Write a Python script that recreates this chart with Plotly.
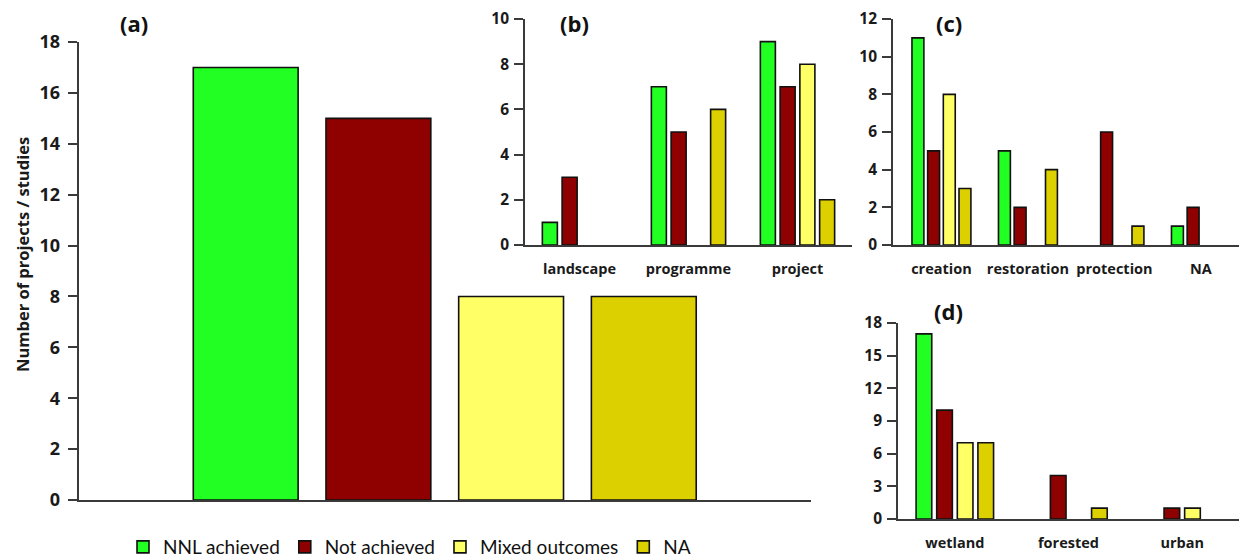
import plotly.graph_objects as go

W, H = 1239, 557

series = ["NNL achieved", "Not achieved", "Mixed outcomes", "NA"]
colors = ["#22FF22", "#8F0000", "#FFFF66", "#DDD000"]

# panel (a): overall outcomes
a_values = [17, 15, 8, 8]

# panel (b): scale
b_cats = ["landscape", "programme", "project"]
b_nnl = [1, 7, 9]
b_not = [3, 5, 7]
b_mixed = [0, 0, 8]
b_na = [0, 6, 2]

# panel (c): offset type
c_cats = ["creation", "restoration", "protection", "NA"]
c_nnl = [11, 5, 0, 1]
c_not = [5, 2, 6, 2]
c_mixed = [8, 0, 0, 0]
c_na = [3, 4, 1, 0]

# panel (d): habitat
d_cats = ["wetland", "forested", "urban"]
d_nnl = [17, 0, 0]
d_not = [10, 4, 1]
d_mixed = [7, 0, 1]
d_na = [7, 1, 0]

b_vals = [b_nnl, b_not, b_mixed, b_na]
c_vals = [c_nnl, c_not, c_mixed, c_na]
d_vals = [d_nnl, d_not, d_mixed, d_na]


def px_x(p):
    return p / W


def px_y(p):
    return 1 - p / H


fig = go.Figure()

OUT = "#111111"

# (a)
for i, (name, col, v) in enumerate(zip(series, colors, a_values)):
    fig.add_trace(go.Bar(
        x=[i + 1], y=[v], name=name,
        marker=dict(color=col, line=dict(color=OUT, width=1.6)),
        width=0.79, offset=-0.395, xaxis="x", yaxis="y",
        legendgroup=name, showlegend=True, hoverinfo="y"))

# (b), (c), (d)
for ax, cats, vals in [("2", b_cats, b_vals), ("3", c_cats, c_vals), ("4", d_cats, d_vals)]:
    for name, col, v in zip(series, colors, vals):
        lw = [1.6 if val else 0 for val in v]
        fig.add_trace(go.Bar(
            x=cats, y=v, name=name,
            marker=dict(color=col, line=dict(color=OUT, width=lw)),
            xaxis="x" + ax, yaxis="y" + ax, legendgroup=name,
            showlegend=False))

tick_font_big = dict(family="Open Sans", size=18, color="#1a1a1a", weight="bold")
tick_font = dict(family="Open Sans", size=14.5, color="#1a1a1a", weight="bold")
ytick_small = dict(family="Open Sans", size=15.5, color="#1a1a1a", weight="bold")
axcol = "#3a3a3a"

yax_common = dict(showline=True, linecolor=axcol, linewidth=1.6, ticks="outside",
                  ticklen=9, tickwidth=1.5, tickcolor=axcol, showgrid=False,
                  zeroline=False, fixedrange=True)
xax_common = dict(showline=True, linecolor=axcol, linewidth=1.6, ticks="",
                  showgrid=False, zeroline=False, fixedrange=True)

fig.update_layout(
    width=W, height=H,
    margin=dict(l=0, r=0, t=0, b=0, autoexpand=False),
    plot_bgcolor="white", paper_bgcolor="white",
    barmode="group", bargap=0.275, bargroupgap=0.24,
    showlegend=True,
    legend=dict(orientation="h", xref="container", yref="container",
                x=px_x(123), y=px_y(547), xanchor="left", yanchor="middle",
                font=dict(family="Lato", size=19, color="#111111"),
                itemwidth=30, tracegroupgap=0, bgcolor="rgba(0,0,0,0)"),
    xaxis=dict(domain=[px_x(78.5), px_x(811)], range=[-0.26, 5.26],
               showticklabels=False, anchor="y", **xax_common),
    yaxis=dict(domain=[px_y(500), px_y(42)], range=[0, 18], dtick=2,
               tickfont=tick_font_big, ticklabelstandoff=4, anchor="x", **yax_common),
    xaxis2=dict(domain=[px_x(525), px_x(852)], range=[-0.5, 2.5], anchor="y2",
                tickfont=tick_font, ticklabelstandoff=10, **xax_common),
    yaxis2=dict(domain=[px_y(245), px_y(19)], range=[0, 10], dtick=2, anchor="x2",
                tickfont=ytick_small, ticklabelstandoff=2, **yax_common),
    xaxis3=dict(domain=[px_x(893), 1.0], range=[-0.56, 3.44], anchor="y3",
                tickfont=tick_font, ticklabelstandoff=10, **xax_common),
    yaxis3=dict(domain=[px_y(245), px_y(19)], range=[0, 12], dtick=2, anchor="x3",
                tickfont=ytick_small, ticklabelstandoff=2, **yax_common),
    xaxis4=dict(domain=[px_x(898), 1.0], range=[-0.5, 2.5], anchor="y4",
                tickfont=tick_font, ticklabelstandoff=10, **xax_common),
    yaxis4=dict(domain=[px_y(519), px_y(323)], range=[0, 18], dtick=3, anchor="x4",
                tickfont=ytick_small, ticklabelstandoff=2, **yax_common),
)

ann_font = dict(family="Open Sans", size=22, color="#111111", weight="bold")
for txt, x, y in [("(a)", 134, 23), ("(b)", 574, 23), ("(c)", 949, 23), ("(d)", 948, 311)]:
    fig.add_annotation(text=txt, x=px_x(x), y=px_y(y), xref="paper", yref="paper",
                       showarrow=False, xanchor="center", yanchor="middle", font=ann_font)

fig.add_annotation(text="Number of projects / studies", x=px_x(22), y=px_y(255),
                   xref="paper", yref="paper", showarrow=False, textangle=-90,
                   xanchor="center", yanchor="middle",
                   font=dict(family="Open Sans", size=16.5, color="#1a1a1a", weight="bold"))

fig.write_html("out.html", config={"displayModeBar": False},
               post_script="document.body.style.margin='0';document.body.style.overflow='hidden';")
